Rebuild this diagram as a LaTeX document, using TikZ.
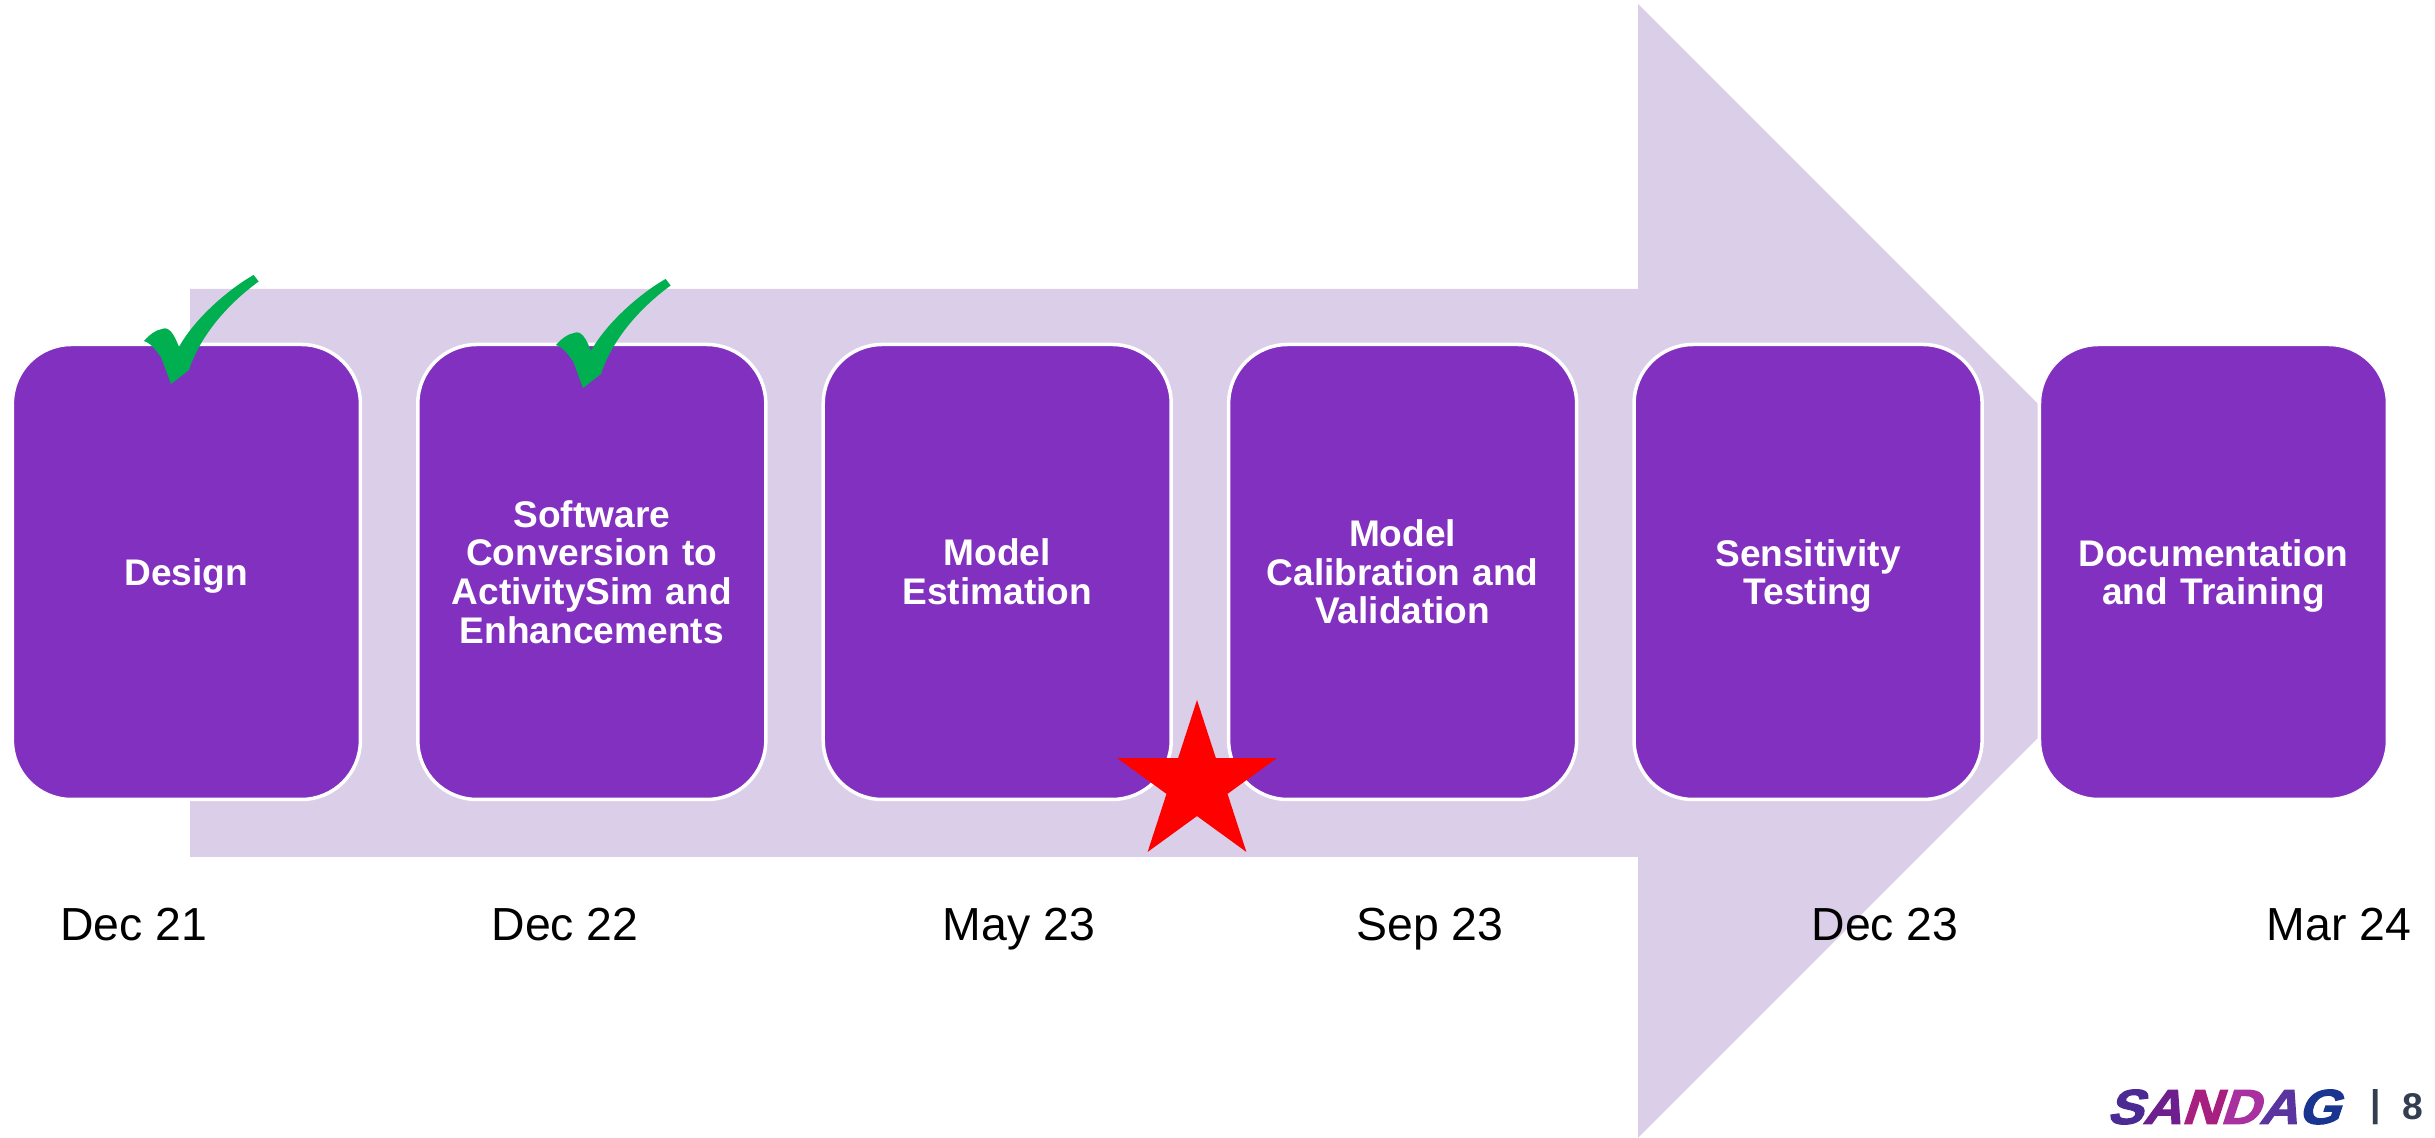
\documentclass[tikz,border=0pt]{standalone}
\usepackage{fontspec}
\setmainfont{Liberation Sans}
\newfontfamily\logofont[BoldFeatures={FakeBold=2.5,FakeSlant=.3}]{Liberation Sans}
\usetikzlibrary{shapes.geometric, positioning}

\definecolor{boxpurple}{HTML}{8230BF}
\definecolor{arrowlilac}{HTML}{DBCEE8}
\definecolor{checkgreen}{HTML}{00B050}
\definecolor{pagegray}{HTML}{333F50}

\begin{document}
\begin{tikzpicture}[
    node distance = .539cm,
    stage/.style={
        draw=white, fill=boxpurple, rectangle, rounded corners=.59cm, line width=1pt,
        inner sep=0pt, minimum width=3.48cm, minimum height=4.55cm,
        text=white, text width=3.1cm, align=center,
        font=\fontsize{10.55}{11}\selectfont\bfseries
    },
    date/.style={
        inner sep=0pt, text depth=0pt, font=\fontsize{13.2}{15}\selectfont
    },
    page/.style={
        inner sep=0pt, text=pagegray, font=\fontsize{10.6}{12}\selectfont\bfseries
    },
    logo/.style={
        inner sep=0pt, xscale=1.1, font=\fontsize{13.9}{15}\logofont\bfseries
    },
    checkmark/.pic={
        \fill[checkgreen] (0,0) -- (.18,.14)
            .. controls (.27,.42) and (.5,.75) .. (.877,1.025) -- (.826,1.09)
            .. controls (.58,.95) and (.24,.66) .. (.08,.37)
            .. controls (.03,.5) and (-.02,.58) .. (-.09,.55)
            .. controls (-.15,.54) and (-.22,.49) .. (-.27,.43)
            .. controls (-.18,.4) and (-.13,.3) .. (-.1,.27) -- cycle;
    }
]

    \useasboundingbox (0,0) rectangle (24.35,11.38);

    % big arrow behind the boxes
    \fill[arrowlilac] (1.90,2.81) -- (1.90,8.49) -- (16.38,8.49) -- (16.38,11.34)
        -- (22.05,5.67) -- (16.38,0) -- (16.38,2.81) -- cycle;

    \node[stage] (s1) at (1.864,5.66) {\raisebox{0pt}[\height][0pt]{Design}};
    \node[stage,right=of s1] (s2) {Software\\Conversion to\\ActivitySim and\\Enhancements};
    \node[stage,right=of s2] (s3) {Model\\Estimation};
    \node[stage,right=of s3] (s4) {Model\\Calibration and\\Validation};
    \node[stage,right=of s4] (s5) {Sensitivity\\\smash{Testing}};
    \node[stage,right=of s5] (s6) {Documentation\\\smash{and Training}};

    \node[date] (d1) at (1.336,2.14) {Dec 21};
    \node[date] (d2) at (5.65,2.14) {Dec 22};
    \node[date] (d3) at (10.19,2.14) {May 23};
    \node[date] (d4) at (14.30,2.14) {Sep 23};
    \node[date] (d5) at (18.85,2.14) {Dec 23};
    \node[date] (d6) at (23.39,2.14) {Mar 24};

    \pic at (1.71,7.54) {checkmark};
    \pic at (5.83,7.50) {checkmark};

    \node[star, star points=5, star point ratio=2.618, fill=red, inner sep=0pt,
        minimum size=1.68cm] (now) at (11.97,3.54) {};

    \node[logo] (sandag) at (22.23,.31) {\textcolor[HTML]{4B2A94}{S}\textcolor[HTML]{6E1F8E}{A}\textcolor[HTML]{A8207F}{N}\textcolor[HTML]{A9309F}{D}\textcolor[HTML]{5A35A0}{A}\textcolor[HTML]{1A3590}{G}};
    \node[page] (bar) at (23.76,.31) {|};
    \node[page,right=.2 of bar] (num) {8};

\end{tikzpicture}
\end{document}
